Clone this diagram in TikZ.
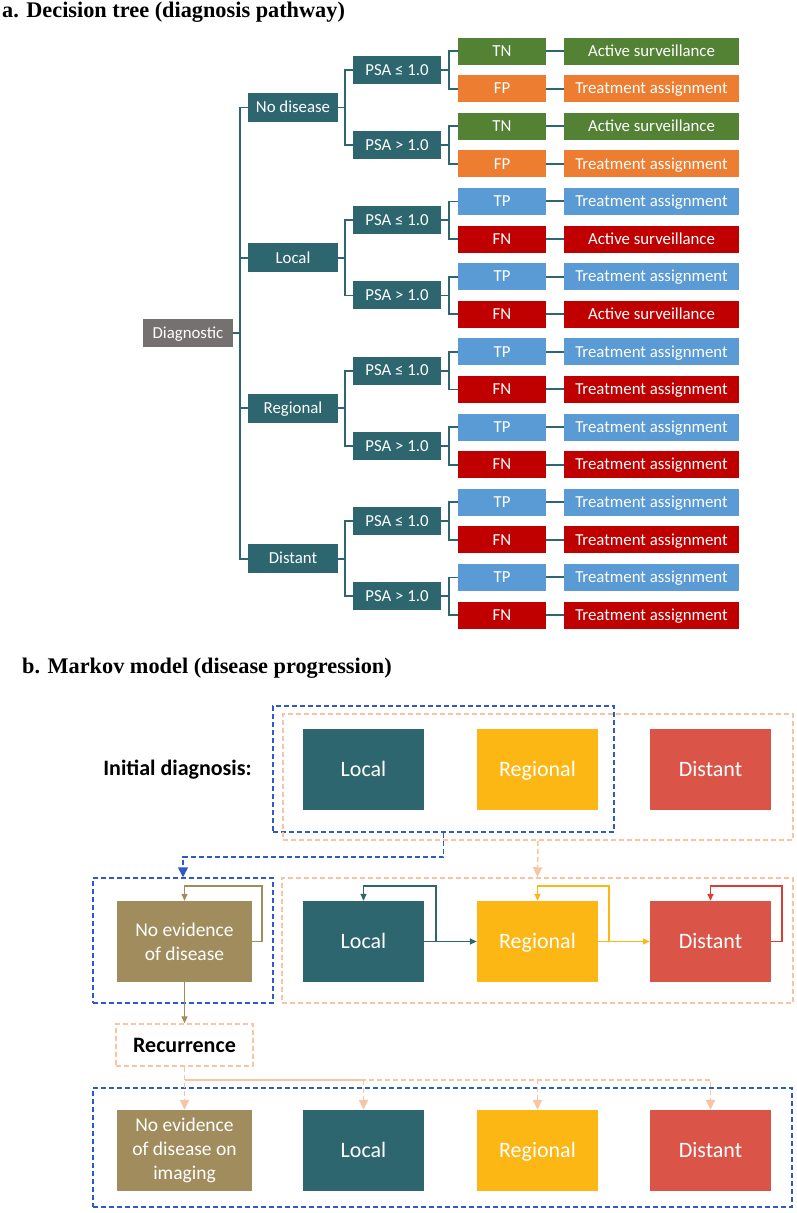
\documentclass[tikz,border=0pt]{standalone}
\usepackage{fontspec}
\setmainfont{Carlito}
\newfontfamily\tms{Liberation Serif}
\usetikzlibrary{arrows.meta,positioning}
\definecolor{tteal}{RGB}{46,102,112}
\definecolor{tgray}{RGB}{118,113,113}
\definecolor{tgreen}{RGB}{84,130,53}
\definecolor{torange}{RGB}{237,125,49}
\definecolor{tblue}{RGB}{91,155,213}
\definecolor{tred}{RGB}{192,0,0}
\definecolor{myellow}{RGB}{252,183,21}
\definecolor{mred}{RGB}{218,85,72}
\definecolor{mloop}{RGB}{222,60,50}
\definecolor{mbrown}{RGB}{161,140,94}
\definecolor{gblue}{RGB}{45,90,200}
\definecolor{gpeach}{RGB}{248,196,164}
\tikzset{
    % Define standard arrow tip
    >={Triangle[length=7pt,width=6pt]},
    % tree boxes
    box/.style={
           text=white,
           inner sep=0pt,
           align=center,
           },
    tbox/.style={
           box,
           font=\fontsize{16.8}{19}\selectfont,
           text height=13pt,
           text depth=2.5pt,
           minimum height=27pt,
           minimum width=88pt,
           },
    lvl/.style={
           tbox,
           fill=tteal,
           minimum width=90pt,
           minimum height=29pt,
           },
    psa/.style={
           tbox,
           fill=tteal,
           minimum height=28pt,
           },
    res/.style={
           tbox,
           minimum width=175pt,
           },
    cn/.style={
           draw=tteal,
           line width=1.8pt,
           },
    % Markov boxes
    st/.style={
           box,
           font=\fontsize{22}{25}\selectfont,
           minimum width=121pt,
           minimum height=81pt,
           },
    one/.style={
           text height=17pt,
           text depth=3pt,
           },
    ned/.style={
           st,
           fill=mbrown,
           minimum width=135pt,
           font=\fontsize{19.5}{24}\selectfont,
           },
    grp/.style={
           line width=1.5pt,
           dash pattern=on 5pt off 3pt,
           inner sep=0pt,
           },
    bgrp/.style={
           grp,
           draw=gblue,
           },
    ogrp/.style={
           grp,
           draw=gpeach,
           },
    bpil/.style={
           grp,
           draw=gblue,
           -{Triangle[length=10pt,width=10pt]},
           },
    opil/.style={
           grp,
           draw=gpeach,
           -{Triangle[length=10pt,width=9pt]},
           },
    loop/.style={
           ->,
           line width=1.5pt,
           },
}

\begin{document}
\begin{tikzpicture}[x=1pt,y=-1pt]
    \useasboundingbox (0,0) rectangle (797,1213);
    % titles
    \node (ta) at (2,17) [anchor=base west,inner sep=0pt] {\tms\fontsize{22.3}{25}\selectfont\bfseries a. Decision tree (diagnosis pathway)};
    \node (tb) at (22,673) [anchor=base west,inner sep=0pt] {\tms\fontsize{22.3}{25}\selectfont\bfseries b. Markov model (disease progression)};

    % decision tree
    \node (dg) at (188,333) [tbox,fill=tgray,minimum width=90pt,minimum height=28pt] {Diagnostic};
    \node (nd) at (293,107.4) [lvl] {No disease};
    \node (lo) at (293,257.8) [lvl] {Local};
    \node (rg) at (293,408.2) [lvl] {Regional};
    \node (ds) at (293,558.6) [lvl] {Distant};
    \foreach \n in {nd,lo,rg,ds}
        \draw [cn] (dg.east) -- ++(7,0) |- (\n.west);

    \foreach \k/\s in {1/≤,2/>,3/≤,4/>,5/≤,6/>,7/≤,8/>}
        \node (p\k) at (397,{51+37.6*(2*\k-1.5)}) [psa] {PSA \s{} 1.0};
    \foreach \n/\a/\b in {nd/1/2,lo/3/4,rg/5/6,ds/7/8} {
        \draw [cn] (\n.east) -- ++(7,0) |- (p\a.west);
        \draw [cn] (\n.east) -- ++(7,0) |- (p\b.west);
    }

    \foreach \i/\lb/\cl/\rs in {1/TN/tgreen/Active surveillance,2/FP/torange/Treatment assignment,
        3/TN/tgreen/Active surveillance,4/FP/torange/Treatment assignment,
        5/TP/tblue/Treatment assignment,6/FN/tred/Active surveillance,
        7/TP/tblue/Treatment assignment,8/FN/tred/Active surveillance,
        9/TP/tblue/Treatment assignment,10/FN/tred/Treatment assignment,
        11/TP/tblue/Treatment assignment,12/FN/tred/Treatment assignment,
        13/TP/tblue/Treatment assignment,14/FN/tred/Treatment assignment,
        15/TP/tblue/Treatment assignment,16/FN/tred/Treatment assignment} {
        \node (t\i) at (502,{51+37.6*(\i-1)}) [tbox,fill=\cl] {\lb};
        \node (s\i) at (651.5,{51+37.6*(\i-1)}) [res,fill=\cl] {\rs};
        \draw [cn,line width=2pt] (t\i.east) -- (s\i.west);
    }
    \foreach \k/\a/\b in {1/1/2,2/3/4,3/5/6,4/7/8,5/9/10,6/11/12,7/13/14,8/15/16} {
        \draw [cn] (p\k.east) -- ++(8,0) |- (t\a.west);
        \draw [cn] (p\k.east) -- ++(8,0) |- (t\b.west);
    }

    % markov model
    \node (g1) at (443.5,769) [bgrp,minimum width=341pt,minimum height=126pt] {};
    \node (o1) at (538,777) [ogrp,minimum width=510pt,minimum height=126pt] {};
    \node (g2) at (183,940.5) [bgrp,minimum width=180pt,minimum height=125pt] {};
    \node (o2) at (537.5,940.5) [ogrp,minimum width=511pt,minimum height=125pt] {};
    \node (g3) at (442.5,1147.5) [bgrp,minimum width=699pt,minimum height=119pt] {};

    \node (id) at (177.5,770) [font=\fontsize{22}{25}\selectfont\bfseries,inner sep=0pt] {Initial diagnosis:};
    \node (l1) at (363.5,769) [st,one,fill=tteal] {Local};
    \node (r1) at (537.5,769) [st,one,fill=myellow] {Regional};
    \node (d1) at (710.5,769) [st,one,fill=mred] {Distant};

    \node (n2) at (184.5,941.5) [ned] {No evidence\\of disease};
    \node (l2) at (363.5,941.5) [st,one,fill=tteal] {Local};
    \node (r2) at (537.5,941.5) [st,one,fill=myellow] {Regional};
    \node (d2) at (710.5,941.5) [st,one,fill=mred] {Distant};

    \node (rec) at (184.5,1045) [ogrp,minimum width=137pt,minimum height=42pt,font=\fontsize{22}{25}\selectfont\bfseries] {Recurrence};

    \node (n3) at (184.5,1150.5) [ned] {No evidence\\of disease on\\imaging};
    \node (l3) at (363.5,1150.5) [st,one,fill=tteal] {Local};
    \node (r3) at (537.5,1150.5) [st,one,fill=myellow] {Regional};
    \node (d3) at (710.5,1150.5) [st,one,fill=mred] {Distant};

    \draw [bpil] (g1.south) -- ++(0,24) -| (g2.north);
    \draw [opil] (o1.south) -- (o2.north);

    \draw [loop,mbrown] (n2.east) -- ++(10,0) |- ([yshift=15pt]n2.north) -- (n2.north);
    \draw [loop,tteal] (l2.east) -- ++(12,0) |- ([yshift=15pt]l2.north) -- (l2.north);
    \draw [loop,tteal] (l2.east) -- (r2.west);
    \draw [loop,myellow] (r2.east) -- ++(11,0) |- ([yshift=15pt]r2.north) -- (r2.north);
    \draw [loop,myellow] (r2.east) -- (d2.west);
    \draw [loop,mloop] (d2.east) -- ++(11,0) |- ([yshift=15pt]d2.north) -- (d2.north);
    \draw [loop,mbrown] (n2.south) -- (rec.north);

    \draw [opil] (rec.south) -- (n3.north);
    \draw [opil] (rec.south) -- ++(0,13) -| (l3.north);
    \draw [opil] (rec.south) ++(0,13) -| (r3.north);
    \draw [opil] (rec.south) ++(0,13) -| (d3.north);
\end{tikzpicture}
\end{document}
